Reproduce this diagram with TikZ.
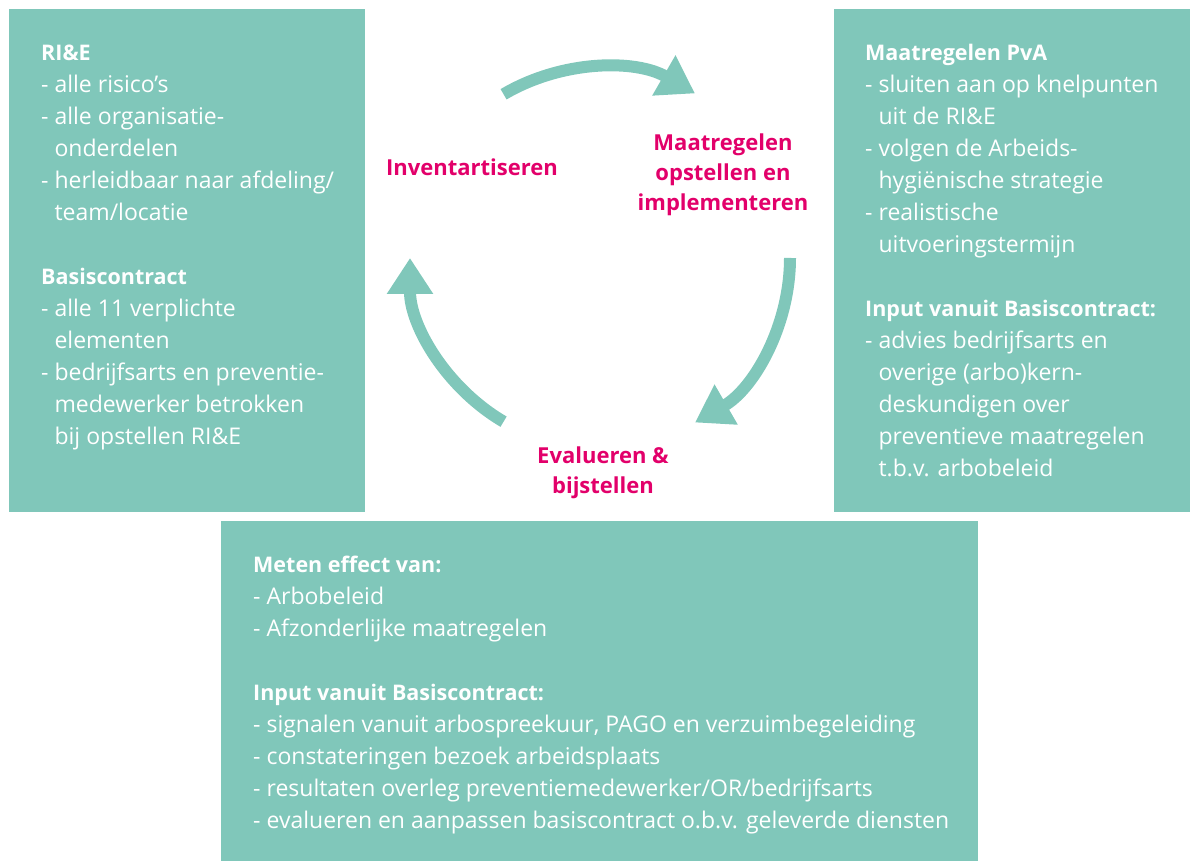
\documentclass[tikz,border=0pt]{standalone}
\usepackage{fontspec}
\setmainfont{Open Sans}
\usetikzlibrary{arrows.meta,calc}
\definecolor{tealbox}{HTML}{80C7BA}
\definecolor{magentatxt}{HTML}{E2006A}
\tikzset{
  box/.style={fill=tealbox, draw=none},
  body/.style={font=\fontsize{23}{32}\selectfont, text=white, align=left, anchor=base west, inner sep=0pt},
  phase/.style={font=\bfseries\fontsize{22}{30}\selectfont, text=magentatxt, align=center, inner sep=0pt},
  cyc/.style={line width=12pt, draw=tealbox, -{Triangle[length=36pt,width=44pt]}}
}
\newcommand{\ind}{\hphantom{- }}
\newcommand{\hd}[1]{{\fontsize{21.5}{32}\selectfont\bfseries #1}}
\begin{document}
\begin{tikzpicture}[x=1pt,y=1pt]
\useasboundingbox (0,0) rectangle (1192,861);
% boxes
\fill[box] (9,349) rectangle (365,852);
\fill[box] (834,349) rectangle (1190,852);
\fill[box] (221,0) rectangle (978,340);
% texts (base anchor = baseline of last line)
\node[body] (rite) at (41,416) {\hd{RI\&E}\\
- alle risico’s\\
- alle organisatie-\\
\ind onderdelen\\
- herleidbaar naar afdeling/\\
\ind team/locatie\\[32pt]
\hd{Basiscontract}\\
- alle 11 verplichte\\
\ind elementen\\
- bedrijfsarts en preventie-\\
\ind medewerker betrokken\\
\ind bij opstellen RI\&E};
\node[body] (pvat) at (865,384) {\hd{Maatregelen PvA}\\
- sluiten aan op knelpunten\\
\ind uit de RI\&E\\
- volgen de Arbeids-\\
\ind hygiënische strategie\\
- realistische\\
\ind uitvoeringstermijn\\[32pt]
\hd{Input vanuit Basiscontract:}\\
- advies bedrijfsarts en\\
\ind overige (arbo)kern-\\
\ind deskundigen over\\
\ind preventieve maatregelen\\
\ind t.b.v. arbobeleid};
\node[body] (evalt) at (253,32) {\hd{Meten effect van:}\\
- Arbobeleid\\
- Afzonderlijke maatregelen\\[32pt]
\hd{Input vanuit Basiscontract:}\\
- signalen vanuit arbospreekuur, PAGO en verzuimbegeleiding\\
- constateringen bezoek arbeidsplaats\\
- resultaten overleg preventiemedewerker/OR/bedrijfsarts\\
- evalueren en aanpassen basiscontract o.b.v. geleverde diensten};
% phase labels
\node[phase] (inv) at (472,694) {Inventartiseren};
\node[phase] (maat) at (723,686) {Maatregelen\\opstellen en\\implementeren};
\node[phase] (eval) at (603,388) {Evalueren \&\\bijstellen};
% cycle arrows
\coordinate (c) at (600,603);
\coordinate (a1) at ($(c)+(120.5:190)$);
\coordinate (a2) at ($(c)+(0:190)$);
\coordinate (a3) at ($(c)+(-120.5:190)$);
\draw[cyc] (a1) arc[start angle=120.5, end angle=60, radius=190];
\draw[cyc] (a2) arc[start angle=0, end angle=-60, radius=190];
\draw[cyc] (a3) arc[start angle=-120.5, end angle=-180, radius=190];
\end{tikzpicture}
\end{document}
